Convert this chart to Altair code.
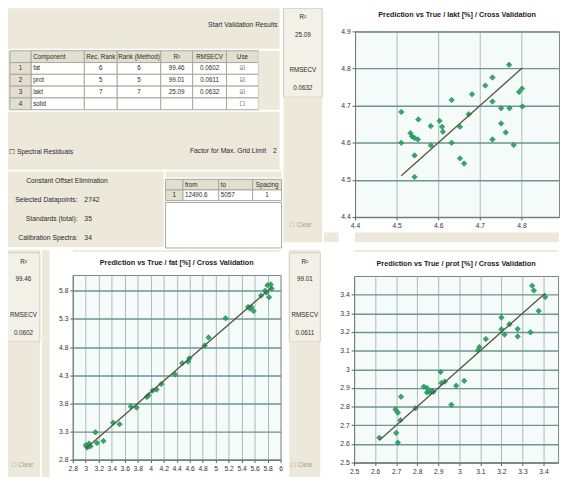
import altair as alt
import pandas as pd

# ---------------- data ----------------
lakt_true = [4.511, 4.511, 4.533, 4.537, 4.543, 4.551, 4.552, 4.543, 4.543, 4.582, 4.582, 4.603,
             4.609, 4.611, 4.632, 4.632, 4.652, 4.652, 4.662, 4.673, 4.681, 4.713, 4.730, 4.730,
             4.730, 4.751, 4.751, 4.762, 4.771, 4.770, 4.781, 4.794, 4.801, 4.802]
lakt_pred = [4.683, 4.600, 4.626, 4.617, 4.613, 4.609, 4.663, 4.566, 4.508, 4.645, 4.593, 4.659,
             4.643, 4.630, 4.715, 4.600, 4.643, 4.558, 4.544, 4.677, 4.731, 4.754, 4.776, 4.711,
             4.609, 4.693, 4.652, 4.628, 4.693, 4.810, 4.594, 4.737, 4.746, 4.698]

fat_true = [3.000, 3.025, 3.050, 3.074, 3.149, 3.173, 3.272, 3.421, 3.520, 3.693, 3.782, 3.941,
            3.965, 4.030, 4.089, 4.163, 4.376, 4.485, 4.574, 4.594, 4.832, 4.891, 5.153, 5.500,
            5.525, 5.550, 5.584, 5.698, 5.762, 5.782, 5.797, 5.822, 5.847, 5.861]
fat_pred = [3.057, 3.017, 3.086, 3.040, 3.286, 3.097, 3.131, 3.457, 3.429, 3.743, 3.726, 3.914,
            3.943, 4.029, 4.046, 4.143, 4.314, 4.514, 4.543, 4.600, 4.829, 4.971, 5.314, 5.514,
            5.486, 5.514, 5.440, 5.714, 5.800, 5.771, 5.897, 5.686, 5.914, 5.840]

prot_true = [2.620, 2.708, 2.700, 2.697, 2.708, 2.723, 2.720, 2.792, 2.831, 2.846, 2.858, 2.869,
             2.877, 2.911, 2.915, 2.931, 2.962, 2.985, 3.023, 3.089, 3.095, 3.126, 3.200, 3.215,
             3.238, 3.277, 3.277, 3.338, 3.346, 3.354, 3.377, 3.408, 2.846, 3.200]
prot_pred = [2.633, 2.607, 2.659, 2.784, 2.767, 2.853, 2.727, 2.791, 2.907, 2.876, 2.879, 2.884,
             2.879, 2.986, 2.927, 2.934, 2.810, 2.912, 2.938, 3.102, 3.119, 3.162, 3.278, 3.186,
             3.241, 3.216, 3.176, 3.198, 3.448, 3.422, 3.313, 3.387, 2.900, 3.214]

lakt_x_ticks = [4.4, 4.5, 4.6, 4.7, 4.8]
lakt_y_ticks = [4.4, 4.5, 4.6, 4.7, 4.8, 4.9]
fat_x_ticks = [2.8, 3.0, 3.2, 3.4, 3.6, 3.8, 4.0, 4.2, 4.4, 4.6, 4.8, 5.0, 5.2, 5.4, 5.6, 5.8, 6.0]
fat_y_ticks = [2.8, 3.3, 3.8, 4.3, 4.8, 5.3, 5.8]
prot_x_ticks = [2.5, 2.6, 2.7, 2.8, 2.9, 3.0, 3.1, 3.2, 3.3, 3.4]
prot_y_ticks = [2.5, 2.6, 2.7, 2.8, 2.9, 3.0, 3.1, 3.2, 3.3, 3.4]

lakt_title = "Prediction vs True / lakt [%] / Cross Validation"
fat_title = "Prediction vs True / fat [%] / Cross Validation"
prot_title = "Prediction vs True / prot [%] / Cross Validation"

# component table
col_index = ["", "1", "2", "3", "4"]
col_component = ["Component", "fat", "prot", "lakt", "solid"]
col_rec_rank = ["Rec. Rank", "6", "5", "7", ""]
col_rank_method = ["Rank (Method)", "6", "5", "7", ""]
col_r2 = ["R²", "99.46", "99.01", "25.09", ""]
col_rmsecv = ["RMSECV", "0.0602", "0.0611", "0.0632", ""]
col_use = ["Use", "☑", "☑", "☑", "☐"]

# region table
reg_index = ["", "1"]
reg_from = ["from", "12490.6"]
reg_to = ["to", "5057"]
reg_spacing = ["Spacing", "1"]

info_names = ["Constant Offset Elimination", "Selected Datapoints:", "Standards (total):", "Calibration Spectra:"]
info_values = ["", "2742", "35", "34"]

# ---------------- styles ----------------
BEIGE = "#ECE9DA"
BOX = "#F2F0E7"
TGRID = "#A8A69A"
HEADER = "#E2DFD0"
PLOT_BG = "#F4FBF8"
GREEN = "#27A464"
GREEN_D = "#16804A"
LINE = "#58543A"
FONT = "Liberation Sans, DejaVu Sans"
TXT = "#2A2A2A"
MUTED = "#A3A196"

blank = pd.DataFrame({"t": [""]})


def view(fill=None, stroke="transparent"):
    kw = {"stroke": stroke}
    if fill:
        kw["fill"] = fill
    return alt.ViewBackground(**kw)


def bg(fill=None, stroke=None):
    """a rect that covers its whole view, so the view's bounds are exact"""
    kw = {}
    if fill:
        kw["fill"] = fill
    else:
        kw["fill"] = "white"
        kw["fillOpacity"] = 0
    if stroke:
        kw["stroke"] = stroke
        kw["strokeWidth"] = 1
    return alt.Chart(blank).mark_rect(**kw).encode(opacity=alt.value(1))


def spacer(w, h, fill=None, stroke=None):
    return bg(fill, stroke).properties(width=w, height=h, view=view())


def label(text, align="center", dx=0, dy=0, size=7, color=TXT):
    df = pd.DataFrame({"t": [text]})
    return alt.Chart(df).mark_text(align=align, dx=dx, dy=dy, fontSize=size,
                                   font=FONT, color=color).encode(text="t:N")


def clear_spacer(w, h, dx, dy):
    return alt.layer(bg(BEIGE), label("☐ Clear", align="left", dx=dx, dy=dy, size=6.5,
                                      color=MUTED)).properties(width=w, height=h, view=view())


def table_col(values, w, h, align="center", body="white"):
    n = len(values)
    df = pd.DataFrame({"r": list(range(n)), "v": values})
    Y = alt.Y("r:O", scale=alt.Scale(domain=list(range(n)), paddingInner=0, paddingOuter=0),
              axis=None)
    head = alt.Chart(df).transform_filter("datum.r == 0").mark_rect(
        fill=HEADER, stroke=TGRID, strokeWidth=1).encode(y=Y)
    cells = alt.Chart(df).transform_filter("datum.r > 0").mark_rect(
        fill=body, stroke=TGRID, strokeWidth=1).encode(y=Y)
    dx = (-w / 2 + 2) if align == "left" else 0
    txt = alt.Chart(df).mark_text(align=align, dx=dx, fontSize=6.5, font=FONT, color=TXT).encode(
        y=Y, text="v:N")
    return alt.layer(head, cells, txt).properties(width=w, height=h, view=view())


def stat_box(w, h, r2v, rmse):
    vals = ["R²", r2v, "", "RMSECV", rmse]
    df = pd.DataFrame({"r": list(range(len(vals))), "v": vals})
    txt = alt.Chart(df).mark_text(fontSize=6.5, font=FONT, color=TXT).encode(
        y=alt.Y("r:O", scale=alt.Scale(domain=list(range(len(vals))), paddingInner=0,
                                       paddingOuter=0.2), axis=None),
        text="v:N")
    return alt.layer(bg(BOX, "#CFCBBB"), txt).properties(width=w, height=h, view=view())


def scatter(title, xs, ys, xdom, ydom, xticks, yticks, w, h):
    df = pd.DataFrame({"x": xs, "y": ys})
    lo, hi = min(xs), max(xs)
    ldf = pd.DataFrame({"x": [lo, hi], "y": [lo, hi]})
    common = dict(format=".1~f", labelFontSize=7, labelFont=FONT, labelColor="#333",
                  tickSize=3, tickColor="#555", domainColor="#777", labelOverlap=False,
                  labelPadding=2, title=None, labelFlush=False)
    X = alt.X("x:Q", scale=alt.Scale(domain=xdom, nice=False, zero=False),
              axis=alt.Axis(values=xticks, gridColor="#A9B8B6", gridWidth=1, **common))
    Y = alt.Y("y:Q", scale=alt.Scale(domain=ydom, nice=False, zero=False),
              axis=alt.Axis(values=yticks, gridColor="#6E9592", gridWidth=1.5, **common))
    pts = alt.Chart(df).mark_point(shape="diamond", filled=True, size=32, color=GREEN,
                                   stroke=GREEN_D, strokeWidth=0.6, opacity=0.95).encode(x=X, y=Y)
    line = alt.Chart(ldf).mark_line(color=LINE, strokeWidth=1.3).encode(x=X, y=Y)
    return alt.layer(pts, line).properties(
        width=w, height=h,
        title=alt.TitleParams(title, fontSize=7.5, font=FONT, fontWeight="bold",
                              offset=9, color="#222"),
        view=view(PLOT_BG, "#7F7F7F"))


# units-only stacks: flush; stacks that hold groups: full bounds
def Vf(*c):
    return alt.vconcat(*c, spacing=0, bounds="flush")


def Hf(*c):
    return alt.hconcat(*c, spacing=0, bounds="flush")


def V(*c):
    return alt.vconcat(*c, spacing=0)


def H(*c):
    return alt.hconcat(*c, spacing=0)


# ---------------- top-left UI panel ----------------
rowA = alt.layer(bg(BEIGE), label("Start Validation Results", align="right", dx=139, dy=-4)
                 ).properties(width=282, height=42, view=view())

tcols = [table_col(col_index, 22, 61, body=HEADER),
         table_col(col_component, 55, 61, align="left"),
         table_col(col_rec_rank, 34, 61),
         table_col(col_rank_method, 45, 61),
         table_col(col_r2, 33, 61),
         table_col(col_rmsecv, 35, 61),
         table_col(col_use, 33, 61)]
rowB = Hf(spacer(3, 61, BEIGE), *tcols, spacer(22, 61, BEIGE))

rowC = alt.layer(
    bg(BEIGE),
    label("☐ Spectral Residuals", align="left", dx=-139, dy=12),
    label("Factor for Max. Grid Limit", align="right", dx=127, dy=11),
    label("2", align="center", dx=136, dy=11),
).properties(width=282, height=60, view=view())

idf = pd.DataFrame({"r": list(range(len(info_names))), "n": info_names, "v": info_values})
iy = alt.Y("r:O", scale=alt.Scale(paddingInner=0, paddingOuter=0), axis=None)
info_block = alt.layer(
    bg(BEIGE),
    alt.Chart(idf).transform_filter("datum.r == 0").mark_text(
        align="center", dx=-19, fontSize=7, font=FONT, color=TXT).encode(y=iy, text="n:N"),
    alt.Chart(idf).transform_filter("datum.r > 0").mark_text(
        align="right", dx=-8, fontSize=7, font=FONT, color=TXT).encode(y=iy, text="n:N"),
    alt.Chart(idf).mark_text(align="left", dx=-1, fontSize=7, font=FONT, color=TXT).encode(
        y=iy, text="v:N"),
).properties(width=162, height=78, view=view())

reg_table = Hf(table_col(reg_index, 18, 22, body=HEADER),
               table_col(reg_from, 37, 22, align="left"),
               table_col(reg_to, 35, 22, align="left"),
               table_col(reg_spacing, 30, 22))
reg_col = V(spacer(120, 6, BEIGE), reg_table, spacer(120, 47, "white", TGRID))
rowD = H(info_block, reg_col)

ui_panel = V(rowA, rowB, rowC, rowD)

# ---------------- plots ----------------
tr_plot = scatter(lakt_title, lakt_true, lakt_pred, [4.4, 4.89], [4.4, 4.9],
                  lakt_x_ticks, lakt_y_ticks, 211, 192)
bl_plot = scatter(fat_title, fat_true, fat_pred, [2.8, 6.0], [2.8, 6.08],
                  fat_x_ticks, fat_y_ticks, 215, 191)
br_plot = scatter(prot_title, prot_true, prot_pred, [2.5, 3.469], [2.5, 3.5],
                  prot_x_ticks, prot_y_ticks, 211, 193)

row1 = H(ui_panel,
         Vf(stat_box(40, 92, "25.09", "0.0632"), clear_spacer(40, 150, -14, 57)),
         Vf(spacer(15, 232), spacer(15, 10, BEIGE)),
         Vf(spacer(211, 24), tr_plot, spacer(211, 16), spacer(211, 10, BEIGE)))

bl_strip = H(Vf(spacer(34, 3, BEIGE), stat_box(34, 92, "99.46", "0.0602"),
                clear_spacer(34, 140, -13, 58)),
             spacer(8, 235, BEIGE))
br_strip = Vf(spacer(32, 3, BEIGE), stat_box(32, 92, "99.01", "0.0611"),
              clear_spacer(32, 140, -15, 58))

row2 = H(bl_strip,
         spacer(5, 235),
         Vf(spacer(215, 2, BEIGE), spacer(215, 24), bl_plot, spacer(215, 18)),
         spacer(3, 235),
         br_strip,
         spacer(16, 235),
         Vf(spacer(211, 2, BEIGE), spacer(211, 25), br_plot, spacer(211, 15)))

chart = alt.vconcat(row1, row2, spacing=0).properties(
    padding={"top": -9, "left": -2, "right": 0, "bottom": 0}, background="white"
).configure_view(stroke="transparent")

chart.save("out.html", embed_options={"renderer": "svg", "actions": False})
